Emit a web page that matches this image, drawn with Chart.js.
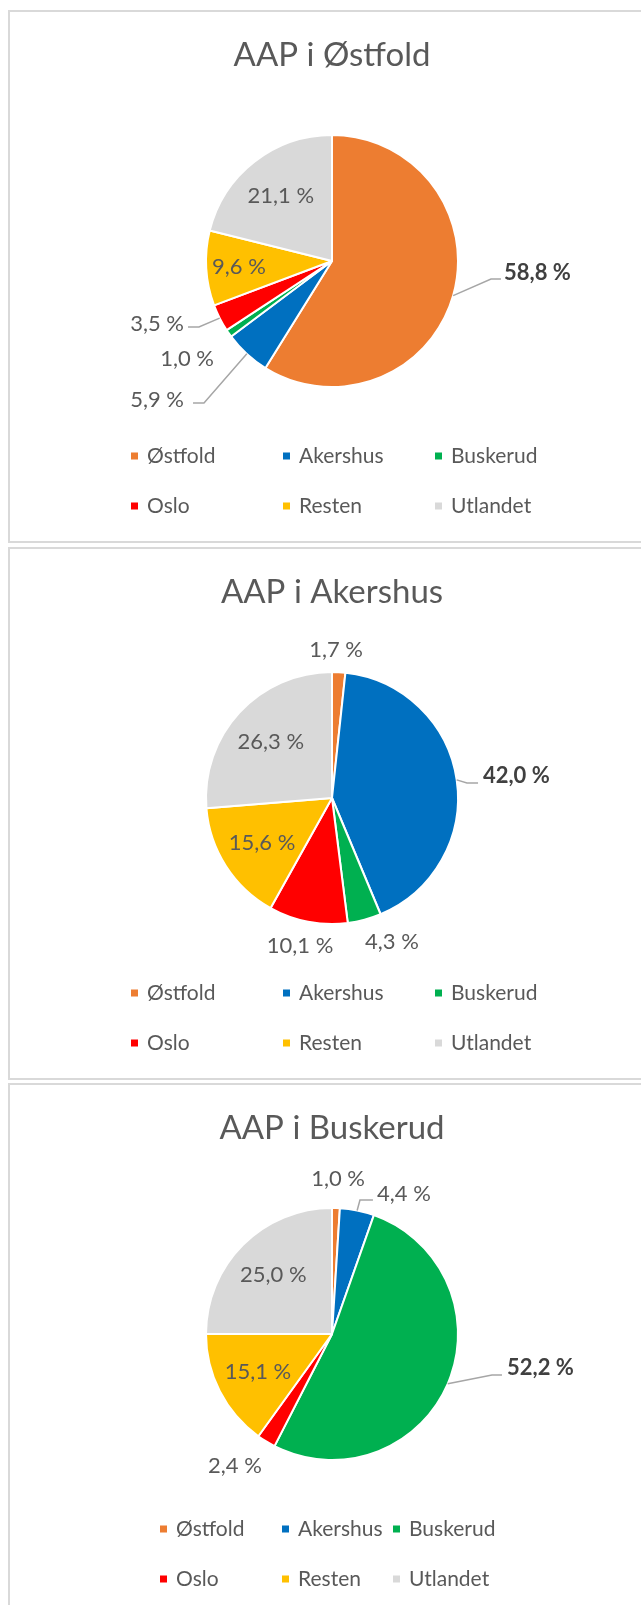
<!DOCTYPE html>
<html>
<head>
<meta charset="utf-8">
<script src="https://cdn.jsdelivr.net/npm/chart.js@4"></script>
<style>
  html, body { margin: 0; padding: 0; background: #fff; overflow: hidden; width: 641px; height: 1605px; }
  .panel { position: absolute; left: 8px; width: 644px; height: 529px; border: 2px solid #d9d9d9; background: #fff; }
  .panel canvas { display: block; }
</style>
</head>
<body>
<div class="panel" style="top:10px"><canvas id="c1" width="644" height="529"></canvas></div>
<div class="panel" style="top:547px"><canvas id="c2" width="644" height="529"></canvas></div>
<div class="panel" style="top:1083px"><canvas id="c3" width="644" height="529"></canvas></div>
<script>
// data
const regions = ['Østfold', 'Akershus', 'Buskerud', 'Oslo', 'Resten', 'Utlandet'];
const titles = ['AAP i Østfold', 'AAP i Akershus', 'AAP i Buskerud'];
const ostfoldShares = [58.8, 5.9, 1.0, 3.5, 9.6, 21.1];
const akershusShares = [1.7, 42.0, 4.3, 10.1, 15.6, 26.3];
const buskerudShares = [1.0, 4.4, 52.2, 2.4, 15.1, 25.0];

const colors = ['#ED7D31', '#0070C0', '#00B050', '#FF0000', '#FFC000', '#D9D9D9'];
const FONT = 'Lato, "Open Sans", sans-serif';

// label placement, in units of the pie radius, relative to the pie centre
// in: inside at f*r on the middle angle; out: text at (x,y), optional leader elbow (ex,ey) then flat to hx
const labelSpecs = [
    [
        {x: 1.365, y: 0.095, align: 'left', bold: true, ex: 1.262, ey: 0.143, hx: 1.341},
        {x: -1.175, y: 1.103, align: 'right', ex: -1.016, ey: 1.127, hx: -1.103},
        {x: -0.937, y: 0.778, align: 'right'},
        {x: -1.175, y: 0.50, align: 'right', ex: -1.056, ey: 0.524, hx: -1.143},
        {f: 0.74},
        {f: 0.66}
    ],
    [
        {x: 0.032, y: -1.175, align: 'center'},
        {x: 1.198, y: -0.175, align: 'left', bold: true, ex: 1.071, ey: -0.119, hx: 1.159},
        {x: 0.476, y: 1.143, align: 'center'},
        {x: -0.254, y: 1.175, align: 'center'},
        {f: 0.66},
        {f: 0.66}
    ],
    [
        {x: 0.048, y: -1.23, align: 'center'},
        {x: 0.357, y: -1.111, align: 'left', ex: 0.222, ey: -1.063, hx: 0.325},
        {x: 1.389, y: 0.27, align: 'left', bold: true, ex: 1.27, ey: 0.325, hx: 1.349},
        {x: -0.77, y: 1.048, align: 'center'},
        {f: 0.66},
        {f: 0.66}
    ]
];

const legendCols = [
    [121, 273, 425],
    [121, 273, 425],
    [150, 272, 383]
];
const legendRows = [444, 494];

function fmt(v) {
    return v.toFixed(1).replace('.', ',') + ' %';
}

const sliceLabels = {
    id: 'sliceLabels',
    afterDatasetsDraw(chart, args, opts) {
        const ctx = chart.ctx;
        const meta = chart.getDatasetMeta(0);
        const values = chart.data.datasets[0].data;
        const specs = opts.specs;
        ctx.save();
        meta.data.forEach((arc, i) => {
            const p = arc.getProps(['x', 'y', 'startAngle', 'endAngle', 'outerRadius'], true);
            const r = p.outerRadius;
            const mid = (p.startAngle + p.endAngle) / 2;
            const s = specs[i];
            let tx, ty, align = 'center';
            if (s.f) {
                tx = p.x + Math.cos(mid) * r * s.f;
                ty = p.y + Math.sin(mid) * r * s.f;
            } else {
                tx = p.x + s.x * r;
                ty = p.y + s.y * r;
                align = s.align;
                if (s.ex !== undefined) {
                    ctx.strokeStyle = '#a6a6a6';
                    ctx.lineWidth = 1.5;
                    ctx.beginPath();
                    ctx.moveTo(p.x + Math.cos(mid) * r, p.y + Math.sin(mid) * r);
                    ctx.lineTo(p.x + s.ex * r, p.y + s.ey * r);
                    ctx.lineTo(p.x + s.hx * r, p.y + s.ey * r);
                    ctx.stroke();
                }
            }
            ctx.font = (s.bold ? 'bold ' : '') + '22px ' + FONT;
            ctx.fillStyle = s.bold ? '#404040' : '#595959';
            ctx.textAlign = align;
            ctx.textBaseline = 'middle';
            ctx.fillText(fmt(values[i]), tx, ty);
        });
        ctx.restore();
    }
};

const gridLegend = {
    id: 'gridLegend',
    afterDraw(chart, args, opts) {
        const ctx = chart.ctx;
        const labels = chart.data.labels;
        const bg = chart.data.datasets[0].backgroundColor;
        ctx.save();
        ctx.font = '21px ' + FONT;
        ctx.textAlign = 'left';
        ctx.textBaseline = 'middle';
        labels.forEach((lab, i) => {
            const x = opts.cols[i % 3];
            const y = legendRows[Math.floor(i / 3)];
            ctx.fillStyle = bg[i];
            ctx.fillRect(x, y - 3.5, 7, 7);
            ctx.fillStyle = '#595959';
            ctx.fillText(lab, x + 16, y);
        });
        ctx.restore();
    }
};

function drawPie(id, title, shares, k) {
    new Chart(document.getElementById(id), {
        type: 'pie',
        data: {
            labels: regions,
            datasets: [{
                data: shares,
                backgroundColor: colors,
                borderColor: '#ffffff',
                borderWidth: 2
            }]
        },
        options: {
            responsive: false,
            animation: false,
            layout: { padding: { top: 0, bottom: 153, left: 0, right: 0 } },
            plugins: {
                legend: { display: false },
                tooltip: { enabled: false },
                title: {
                    display: true,
                    text: title,
                    color: '#595959',
                    font: { family: FONT, size: 33, weight: 'normal', lineHeight: 1 },
                    padding: { top: 27, bottom: 62 }
                },
                sliceLabels: { specs: labelSpecs[k] },
                gridLegend: { cols: legendCols[k] }
            }
        },
        plugins: [sliceLabels, gridLegend]
    });
}

drawPie('c1', titles[0], ostfoldShares, 0);
drawPie('c2', titles[1], akershusShares, 1);
drawPie('c3', titles[2], buskerudShares, 2);
</script>
</body>
</html>
